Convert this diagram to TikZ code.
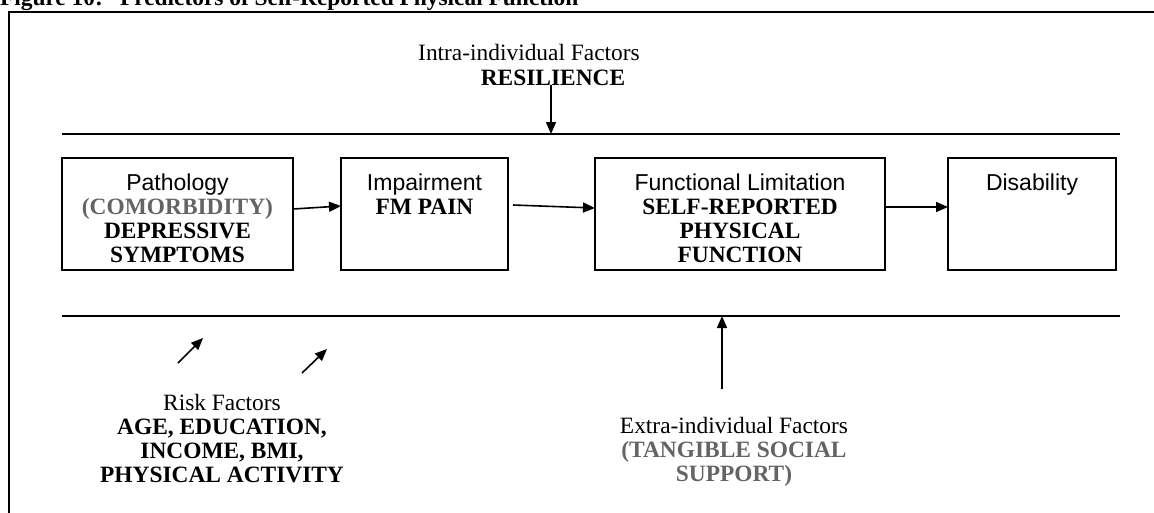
\documentclass[tikz,border=0pt]{standalone}
\usepackage{fontspec}
\setmainfont{Liberation Serif}
\newfontfamily\sansbox{Liberation Sans}
\usetikzlibrary{arrows.meta}
\definecolor{txtgray}{RGB}{100,100,100}
\newcommand{\firststrut}{\rule{0pt}{18pt}}
\begin{document}
\begin{tikzpicture}[x=1pt,y=-1pt,
  every node/.style={inner sep=0pt, outer sep=0pt},
  boxnode/.style={draw, line width=1.4pt, anchor=north west},
  lbl/.style={font=\fontsize{23.4}{24.2}\selectfont, align=center, anchor=north},
  sanslbl/.style={font=\sansbox\fontsize{23}{24.2}\selectfont, align=center, anchor=north},
  conn/.style={line width=1.6pt, -{Triangle[length=12pt,width=10pt]}},
  rulel/.style={line width=1.4pt}
]
\useasboundingbox (0,0) rectangle (1154,512);
% frame
\draw[rulel] (9,520) -- (9,12) -- (1160,12);
% title
\node[anchor=base west, font=\bfseries\fontsize{23.4}{24}\selectfont] (title) at (0,5) {Figure 10:};
\node[anchor=base west, font=\bfseries\fontsize{23.4}{24}\selectfont] (title2) at (120,5) {Predictors of Self-Reported Physical Function};
% intra-individual
\node[lbl, anchor=base] (intra) at (529,60) {Intra-individual Factors};
\node[lbl, anchor=base, font=\bfseries\fontsize{23.4}{24.2}\selectfont] (res) at (553,85) {RESILIENCE};
% rules
\coordinate (topL) at (62,134);
\coordinate (topR) at (1120,134);
\coordinate (botL) at (62,316);
\coordinate (botR) at (1120,316);
\draw[rulel] (topL) -- (topR);
\draw[rulel] (botL) -- (botR);
\draw[conn] (res.south -| 551,0) -- (551,0 |- topL);
% boxes
\node[boxnode, minimum width=231pt, minimum height=112pt] (path) at (62,158) {};
\node[boxnode, minimum width=167pt, minimum height=112pt] (imp) at (341,158) {};
\node[boxnode, minimum width=290pt, minimum height=112pt] (func) at (595,158) {};
\node[boxnode, minimum width=168pt, minimum height=112pt] (dis) at (948,158) {};
% box texts
\node[sanslbl] (pathT) at (177.5,172) {\firststrut Pathology};
\node[lbl] (pathB) at (177.5,196) {\firststrut\textcolor{txtgray}{\textbf{(COMORBIDITY)}}\\\textbf{DEPRESSIVE}\\\textbf{SYMPTOMS}};
\node[sanslbl] (impT) at (424.5,172) {\firststrut Impairment};
\node[lbl] (impB) at (424.5,196) {\firststrut\textbf{FM PAIN}};
\node[sanslbl] (funcT) at (740,172) {\firststrut Functional Limitation};
\node[lbl] (funcB) at (740,196) {\firststrut\textbf{SELF-REPORTED}\\\textbf{PHYSICAL}\\\textbf{FUNCTION}};
\node[sanslbl] (disT) at (1032,172) {\firststrut Disability};
% box connectors
\draw[conn] ([yshift=5pt]path.east) -- ([yshift=8pt]imp.west);
\draw[conn] ([xshift=5pt,yshift=9pt]imp.east) -- ([yshift=6pt]func.west);
\draw[conn] ([yshift=7pt]func.east) -- ([yshift=7pt]dis.west);
% risk factors
\coordinate (r1a) at (178,363);
\coordinate (r1b) at (203,338);
\coordinate (r2a) at (302,373);
\coordinate (r2b) at (327,349);
\draw[conn] (r1a) -- (r1b);
\draw[conn] (r2a) -- (r2b);
\node[lbl] (risk) at (222,392) {\firststrut Risk Factors\\\textbf{AGE, EDUCATION,}\\\textbf{INCOME, BMI,}\\\textbf{PHYSICAL ACTIVITY}};
% extra-individual
\coordinate (xtail) at (722,389);
\draw[conn] (xtail) -- (xtail |- botL);
\node[lbl] (extra) at (734,415) {\firststrut Extra-individual Factors\\\textcolor{txtgray}{\textbf{(TANGIBLE SOCIAL}}\\\textcolor{txtgray}{\textbf{SUPPORT)}}};
\end{tikzpicture}
\end{document}
